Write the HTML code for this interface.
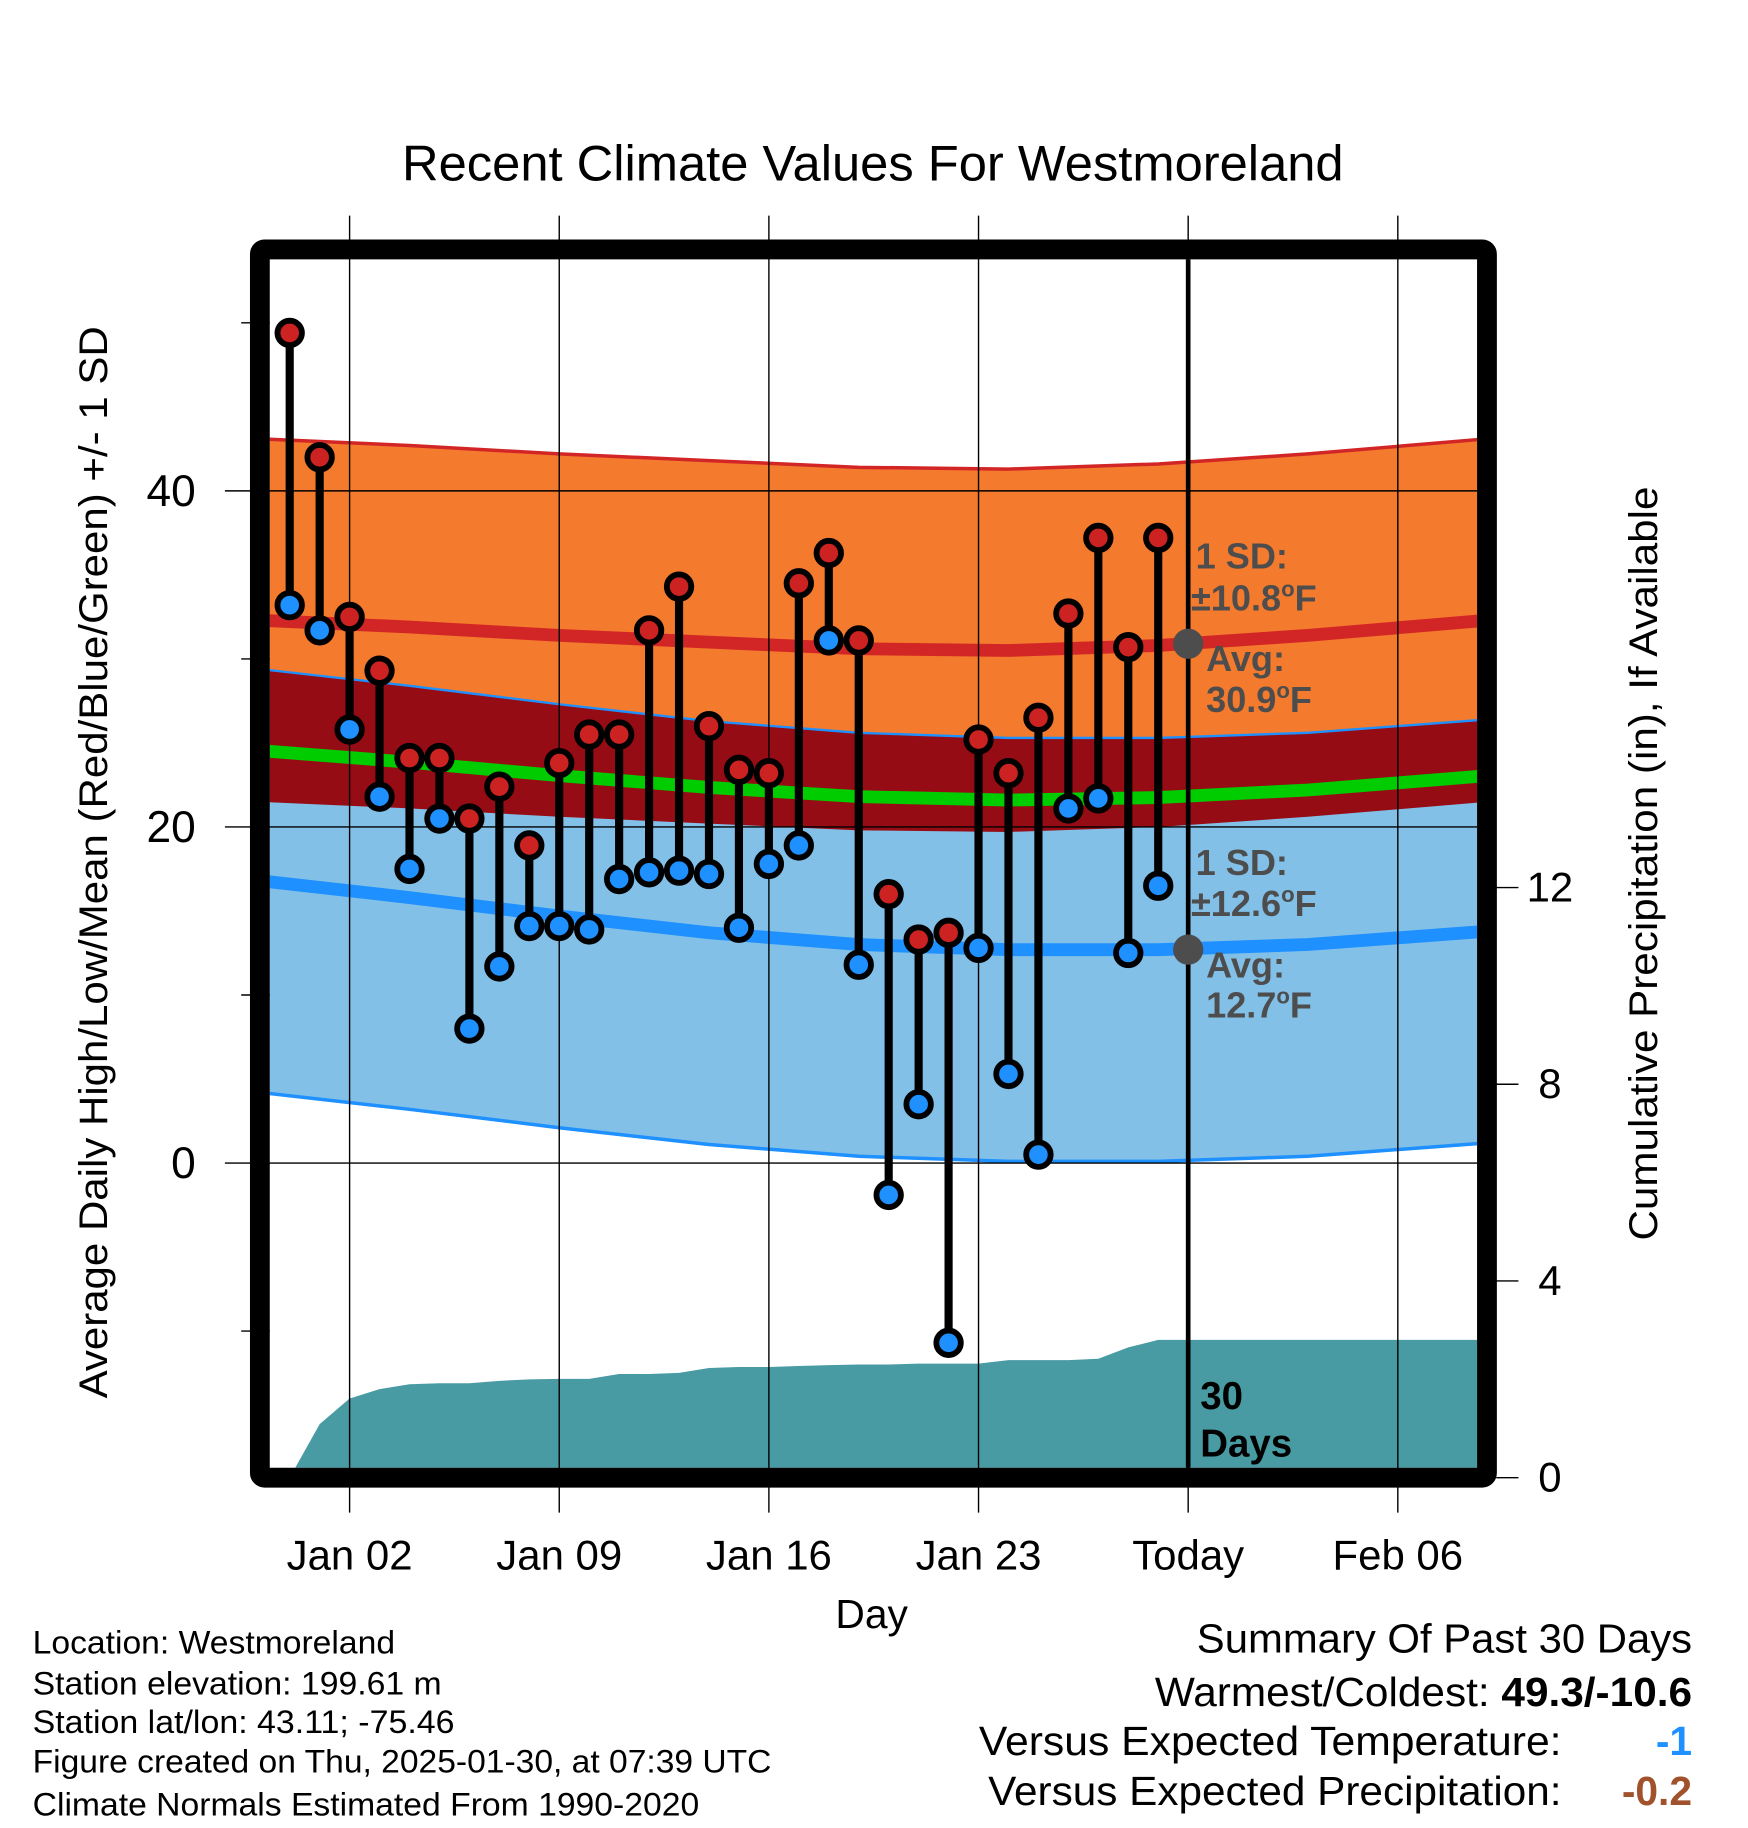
<!DOCTYPE html>
<html><head><meta charset="utf-8"><style>
html,body{margin:0;padding:0;background:#fff}
svg{display:block;font-family:"Liberation Sans",Arial,sans-serif}
</style></head><body>
<svg id="chart" width="1748" height="1828" viewBox="0 0 1500 1568.6" xmlns="http://www.w3.org/2000/svg">
<rect x="0" y="0" width="1500" height="1568.6" fill="#fff"/>
<g id="plot"></g>
<text x="749" y="155" font-size="43" text-anchor="middle" textLength="808" lengthAdjust="spacingAndGlyphs">Recent Climate Values For Westmoreland</text>
<text transform="translate(92,740) rotate(-90)" font-size="34" text-anchor="middle" textLength="920" lengthAdjust="spacingAndGlyphs">Average Daily High/Low/Mean (Red/Blue/Green) +/- 1 SD</text>
<text transform="translate(1422,741) rotate(-90)" font-size="34" text-anchor="middle" textLength="647" lengthAdjust="spacingAndGlyphs">Cumulative Precipitation (in), If Available</text>
<text x="748" y="1397" font-size="35" text-anchor="middle">Day</text>
<g font-size="28">
<text x="28" y="1419" textLength="311" lengthAdjust="spacingAndGlyphs">Location: Westmoreland</text>
<text x="28" y="1454" textLength="351" lengthAdjust="spacingAndGlyphs">Station elevation: 199.61 m</text>
<text x="28" y="1487" textLength="362" lengthAdjust="spacingAndGlyphs">Station lat/lon: 43.11; -75.46</text>
<text x="28" y="1521" textLength="634" lengthAdjust="spacingAndGlyphs">Figure created on Thu, 2025-01-30, at 07:39 UTC</text>
<text x="28" y="1558" textLength="572" lengthAdjust="spacingAndGlyphs">Climate Normals Estimated From 1990-2020</text>
</g>
<g font-size="35">
<text x="1027" y="1418" textLength="425" lengthAdjust="spacingAndGlyphs">Summary Of Past 30 Days</text>
<text x="991" y="1464" textLength="461" lengthAdjust="spacingAndGlyphs">Warmest/Coldest: <tspan font-weight="bold">49.3/-10.6</tspan></text>
<text x="840" y="1506" textLength="500" lengthAdjust="spacingAndGlyphs">Versus Expected Temperature:</text>
<text x="1452" y="1506" text-anchor="end" fill="#1e90ff" font-weight="bold">-1</text>
<text x="848" y="1549" textLength="492" lengthAdjust="spacingAndGlyphs">Versus Expected Precipitation:</text>
<text x="1452" y="1549" text-anchor="end" fill="#a0522d" font-weight="bold">-0.2</text>
</g>
</svg>
<script>
const highs=[49.4,42.0,32.5,29.3,24.1,24.1,20.5,22.4,18.9,23.8,25.5,25.5,31.7,34.3,26.0,23.4,23.2,34.5,36.3,31.1,16.0,13.3,13.7,25.2,23.2,26.5,32.7,37.2,30.7,37.2];
const lows=[33.2,31.7,25.8,21.8,17.5,20.5,8.0,11.7,14.1,14.1,13.9,16.9,17.3,17.4,17.2,14.0,17.8,18.9,31.1,11.8,-1.9,3.5,-10.7,12.8,5.3,0.5,21.1,21.7,12.5,16.5];
const precip=[0,1.09,1.61,1.80,1.90,1.92,1.92,1.97,2.0,2.01,2.01,2.11,2.11,2.13,2.23,2.25,2.25,2.27,2.29,2.30,2.30,2.32,2.32,2.32,2.39,2.39,2.39,2.42,2.65,2.80];
const normDays=[-1,4,9,14,19,24,29,34,40];
const highMean=[32.3,31.9,31.4,31.0,30.6,30.5,30.8,31.4,32.3];
const lowMean=[16.8,15.8,14.7,13.7,13.0,12.7,12.7,13.0,13.8];
const highSD=10.8, lowSD=12.6;
const xTickDays=[2,9,16,23,30,37];
const xTickLabels=['Jan 02','Jan 09','Jan 16','Jan 23','Today','Feb 06'];
const yTicks=[0,20,40];
const yMinor=[-10,10,30,50];
const pTicks=[0,4,8,12];
const todayDay=30;

const L=231.5,R=1267.5,T=222.5,B=1259.5;
const x=d=>248.6+25.7*(d-0);
const y=v=>998-14.42*v;
const py=p=>1268-42.2*p;
const NS='http://www.w3.org/2000/svg';
const plot=document.getElementById('plot');
function mk(tag,attrs,parent){const e=document.createElementNS(NS,tag);for(const k in attrs)e.setAttribute(k,attrs[k]);(parent||plot).appendChild(e);return e;}
const defs=mk('defs',{});
const cp=mk('clipPath',{id:'clip'},defs);mk('rect',{x:L,y:T,width:R-L,height:B-T},cp);
const g=mk('g',{'clip-path':'url(#clip)'});


function linePts(arr,off){return normDays.map((d,i)=>[x(d),y(arr[i]+off)]);}
function pathFrom(pts){return pts.map((p,i)=>(i?'L':'M')+p[0].toFixed(1)+','+p[1].toFixed(1)).join('');}
function band(arr,sd){const up=linePts(arr,sd),lo=linePts(arr,-sd).reverse();return pathFrom(up)+pathFrom(lo).replace('M','L')+'Z';}
let e;
e=mk('path',{d:band(highMean,highSD),fill:'#f47a2e'},g);

e=mk('path',{d:band(lowMean,lowSD),fill:'#82c0e8'},g);

const ov=normDays.map((d,i)=>[x(d),y(Math.min(lowMean[i]+lowSD,highMean[i]+highSD))]);
const ovl=normDays.map((d,i)=>[x(d),y(Math.max(highMean[i]-highSD,lowMean[i]-lowSD))]).reverse();
e=mk('path',{d:pathFrom(ov)+pathFrom(ovl).replace('M','L')+'Z',fill:'#960c14'},g);

e=mk('path',{d:pathFrom(linePts(highMean,highSD)),fill:'none',stroke:'#d22626','stroke-width':3},g);

e=mk('path',{d:pathFrom(linePts(lowMean,lowSD)),fill:'none',stroke:'#1e90ff','stroke-width':2},g);

e=mk('path',{d:pathFrom(linePts(lowMean,-lowSD)),fill:'none',stroke:'#1e90ff','stroke-width':3},g);

e=mk('path',{d:pathFrom(linePts(highMean,0)),fill:'none',stroke:'#d22626','stroke-width':11},g);

e=mk('path',{d:pathFrom(lowMean.map((v,i)=>[x(normDays[i]),y(v)])),fill:'none',stroke:'#1e90ff','stroke-width':11},g);

e=mk('path',{d:pathFrom(highMean.map((v,i)=>[x(normDays[i]),y((v+lowMean[i])/2)])),fill:'none',stroke:'#00cc00','stroke-width':11},g);

let pd='M'+x(0)+','+py(0);
precip.forEach((p,i)=>{pd+='L'+x(i).toFixed(1)+','+py(p).toFixed(1);});
pd+='L'+R+','+py(precip[precip.length-1]).toFixed(1)+'L'+R+','+py(0)+'Z';
e=mk('path',{d:pd,fill:'#489ba3'},g);

xTickDays.forEach(d=>{const l=mk('line',{x1:x(d),x2:x(d),y1:185,y2:1298,stroke:'#000','stroke-width':1.2});
});
yTicks.forEach(v=>{const l=mk('line',{x1:193,x2:R,y1:y(v),y2:y(v),stroke:'#000','stroke-width':1.2});
});
yMinor.forEach(v=>{const l=mk('line',{x1:207,x2:L,y1:y(v),y2:y(v),stroke:'#000','stroke-width':1.2});
});
e=mk('line',{x1:x(todayDay),x2:x(todayDay),y1:T,y2:B,stroke:'#000','stroke-width':4});

highs.forEach((h,i)=>{const s=mk('line',{x1:x(i),x2:x(i),y1:y(h),y2:y(lows[i]),stroke:'#000','stroke-width':7});
});
highs.forEach((h,i)=>{
const c1=mk('circle',{cx:x(i),cy:y(h),r:10.5,fill:'#cc2222',stroke:'#000','stroke-width':5});

const c2=mk('circle',{cx:x(i),cy:y(lows[i]),r:10.5,fill:'#1e90ff',stroke:'#000','stroke-width':5});
});
const hAvg=30.9,lAvg=12.7;
e=mk('circle',{cx:x(todayDay),cy:y(hAvg),r:13,fill:'#4d4d4d'});

e=mk('circle',{cx:x(todayDay),cy:y(lAvg),r:13,fill:'#4d4d4d'});

function txt(s,xx,yy,attrs,name){const t=mk('text',Object.assign({x:xx,y:yy},attrs));t.textContent=s;return t;}
function degTxt(num,xx,yy,attrs,name){const t=mk('text',Object.assign({x:xx,y:yy},attrs));
const a=document.createElementNS(NS,'tspan');a.textContent=num;t.appendChild(a);
const o=document.createElementNS(NS,'tspan');o.textContent='o';o.setAttribute('font-size','19');o.setAttribute('dy','-12');t.appendChild(o);
const f=document.createElementNS(NS,'tspan');f.textContent='F';f.setAttribute('dy','12');t.appendChild(f);
return t;}
const ga={fill:'#4d4d4d','font-weight':'bold','font-size':31};
txt('1 SD:',1026,488,ga,'high-sd-label');
degTxt('±10.8',1022,524,ga,'high-sd-value');
txt('Avg:',1035,576,ga,'high-avg-label');
degTxt('30.9',1035,611,ga,'high-avg-value');
txt('1 SD:',1026,751,ga,'low-sd-label');
degTxt('±12.6',1022,786,ga,'low-sd-value');
txt('Avg:',1035,839,ga,'low-avg-label');
degTxt('12.7',1035,873,ga,'low-avg-value');
const ba={fill:'#000','font-weight':'bold','font-size':33};
txt('30',1030,1209,ba,'days-label-number');
txt('Days',1030,1250,ba,'days-label-text');
e=mk('rect',{x:223,y:214,width:1053,height:1054,fill:'none',stroke:'#000','stroke-width':17,rx:4});

xTickDays.forEach((d,i)=>txt(xTickLabels[i],x(d),1347,{'font-size':36,'text-anchor':'middle'},'x-tick-label'));
yTicks.forEach(v=>txt(String(v),168,y(v)+13,{'font-size':38,'text-anchor':'end'},'y-tick-label'));
pTicks.forEach(p=>{const l=mk('line',{x1:1284,x2:1303,y1:py(p),y2:py(p),stroke:'#000','stroke-width':1.2});

txt(String(p),1330,py(p)+12,{'font-size':36,'text-anchor':'middle'},'y2-tick-label');});
</script>
</body></html>
